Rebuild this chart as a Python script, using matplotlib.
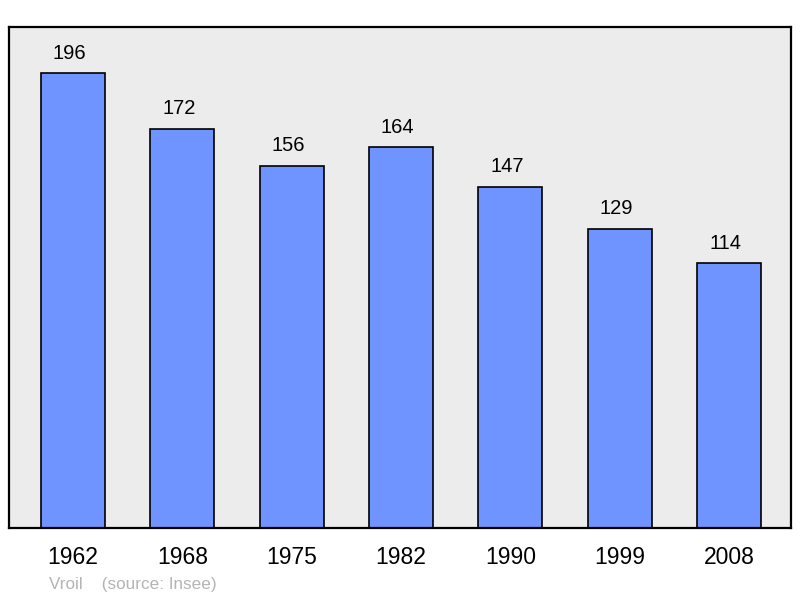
import numpy as np
import matplotlib.pyplot as plt

plt.rcParams['font.family'] = ['Liberation Sans', 'DejaVu Sans']

years = ['1962', '1968', '1975', '1982', '1990', '1999', '2008']
population = [196, 172, 156, 164, 147, 129, 114]

fig = plt.figure(figsize=(8, 5.98), dpi=100)
ax = fig.add_axes([9 / 800, 70 / 598, 782 / 800, 501 / 598])
ax.set_facecolor('#ececec')

ind = np.arange(len(years))
bars = ax.bar(ind, population, 0.585, color='#7094ff', edgecolor='black', linewidth=1.2)

for x, v in zip(ind, population):
    ax.annotate(str(v), (x, v), xytext=(-2.5, 7.5), textcoords='offset points',
                ha='center', va='bottom', fontsize=14.5)

ax.set_xlim(-0.585, 6.567)
ax.set_ylim(0, 215.8)
ax.set_yticks([])
ax.set_xticks(ind)
ax.set_xticklabels(years, fontsize=16.5)
ax.tick_params(axis='x', length=0, pad=13)
for s in ax.spines.values():
    s.set_linewidth(1.6)

fig.text(49 / 800, 1 - 585 / 598, 'Vroil    (source: Insee)', color='#b4b4b4',
         fontsize=12.3, va='center', ha='left')

plt.savefig('out.png')
